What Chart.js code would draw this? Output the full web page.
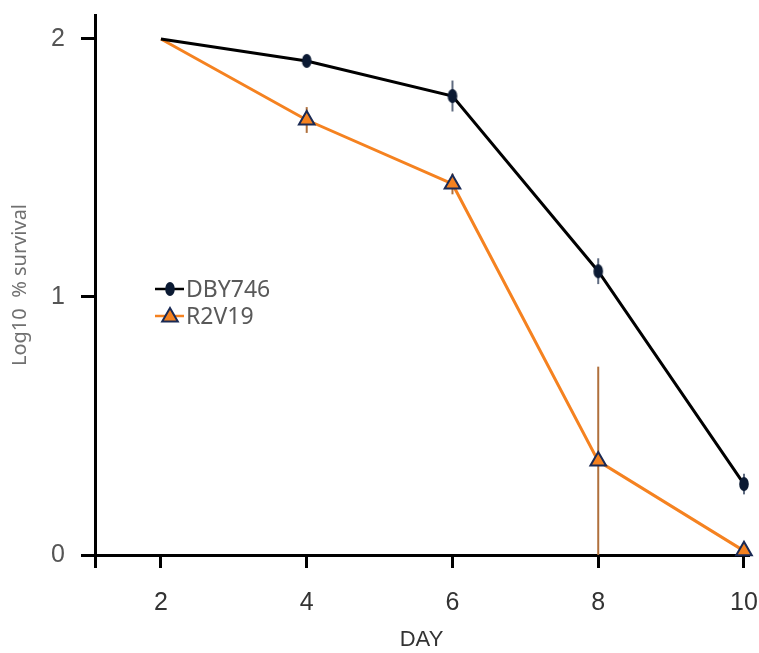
<!DOCTYPE html>
<html>
<head>
<meta charset="utf-8">
<script src="https://cdn.jsdelivr.net/npm/chart.js@4.4.0/dist/chart.umd.min.js"></script>
<style>
  html, body { margin: 0; padding: 0; background: #fff; }
  #wrap { width: 759px; height: 653px; }
</style>
</head>
<body>
<div id="wrap"><canvas id="survivalChart"></canvas></div>
<script>
// values
const days = [2, 4, 6, 8, 10];
const dby746 = [2.0, 1.915, 1.779, 1.10, 0.275];
const dby746Err = [0, 0.02, 0.06, 0.05, 0.04];
const r2v19 = [2.0, 1.686, 1.438, 0.364, 0.016];
const r2v19Err = [0, 0.05, 0.04, 0.366, 0];
const xTicks = [2, 4, 6, 8, 10];
const yTicks = [0, 1, 2];

const tickFont = { family: "'Liberation Sans Narrow', 'Liberation Sans', sans-serif", size: 25 };
const grayFont = "'Noto Sans', 'DejaVu Sans', sans-serif";

// vertical ellipse marker for DBY746
function ellipseMarker() {
    const c = document.createElement('canvas');
    c.width = 12; c.height = 16;
    const g = c.getContext('2d');
    g.fillStyle = '#0b1a33';
    g.beginPath();
    g.ellipse(6, 8, 4.8, 7, 0, 0, Math.PI * 2);
    g.fill();
    return c;
}
const dotMarker = ellipseMarker();

function drawTriangle(ctx, cx, cy, r, fill, stroke) {
    ctx.fillStyle = fill;
    ctx.strokeStyle = stroke;
    ctx.lineWidth = 2;
    ctx.beginPath();
    for (let k = 0; k < 3; k++) {
        const a = -Math.PI / 2 + k * 2 * Math.PI / 3;
        const px = cx + Math.cos(a) * r, py = cy + Math.sin(a) * r;
        if (k === 0) ctx.moveTo(px, py); else ctx.lineTo(px, py);
    }
    ctx.closePath();
    ctx.fill();
    ctx.stroke();
}

const errorBars = {
    id: 'errorBars',
    beforeDatasetsDraw(chart) {
        const ctx = chart.ctx;
        const ys = chart.scales.y;
        const xs = chart.scales.x;
        chart.data.datasets.forEach(ds => {
            ctx.save();
            ctx.strokeStyle = ds.errColor;
            ctx.lineWidth = 2;
            ds.data.forEach((p, i) => {
                const e = ds.errors[i];
                if (!e) return;
                const x = xs.getPixelForValue(p.x);
                ctx.beginPath();
                ctx.moveTo(x, ys.getPixelForValue(p.y + e));
                ctx.lineTo(x, ys.getPixelForValue(Math.max(0, p.y - e)));
                ctx.stroke();
            });
            ctx.restore();
        });
    }
};

const innerLegend = {
    id: 'innerLegend',
    afterDatasetsDraw(chart) {
        const ctx = chart.ctx;
        const x0 = chart.chartArea.left + 60;
        let y = 289;
        chart.data.datasets.forEach(ds => {
            ctx.save();
            ctx.strokeStyle = ds.borderColor;
            ctx.lineWidth = 2.5;
            ctx.beginPath();
            ctx.moveTo(x0, y);
            ctx.lineTo(x0 + 29, y);
            ctx.stroke();
            if (ds.label === 'R2V19') {
                drawTriangle(ctx, x0 + 15, y + 1, 9, ds.pointBackgroundColor, ds.pointBorderColor);
            } else {
                ctx.drawImage(dotMarker, x0 + 15 - 6, y - 8);
            }
            ctx.fillStyle = '#595959';
            ctx.font = "23px " + grayFont;
            ctx.textBaseline = 'middle';
            ctx.textAlign = 'left';
            ctx.fillText(ds.label, x0 + 31, y + 1);
            ctx.restore();
            y += 27;
        });
    }
};

function toPoints(vals) {
    return days.map((d, i) => ({ x: d, y: vals[i] }));
}

// no marker at the first day
const firstHidden = r => ctx => ctx.dataIndex === 0 ? 0 : r;

new Chart(document.getElementById('survivalChart'), {
    type: 'line',
    data: {
        datasets: [{
            label: 'DBY746',
            data: toPoints(dby746),
            errors: dby746Err,
            errColor: '#5f6b80',
            borderColor: '#000000',
            borderWidth: 3,
            pointStyle: dotMarker,
            pointRadius: firstHidden(7),
            pointHoverRadius: 0,
            tension: 0
        }, {
            label: 'R2V19',
            data: toPoints(r2v19),
            errors: r2v19Err,
            errColor: '#b0703c',
            borderColor: '#f58220',
            borderWidth: 3,
            pointStyle: 'triangle',
            pointRadius: firstHidden(9),
            pointHoverRadius: 0,
            pointBackgroundColor: '#f58220',
            pointBorderColor: '#1a2a55',
            pointBorderWidth: 2,
            tension: 0
        }]
    },
    options: {
        responsive: true,
        maintainAspectRatio: false,
        animation: false,
        clip: false,
        layout: { padding: 0 },
        plugins: {
            legend: { display: false },
            tooltip: { enabled: false }
        },
        scales: {
            x: {
                type: 'linear',
                min: 1.095,
                max: 10.055,
                afterBuildTicks: scale => {
                    scale.ticks = [{ value: scale.min }].concat(xTicks.map(v => ({ value: v })));
                },
                afterFit: scale => {
                    scale.height = 98;
                    scale.paddingLeft = 0;
                    scale.paddingRight = 11;
                },
                ticks: {
                    callback: v => xTicks.includes(v) ? String(v) : '',
                    color: '#333',
                    font: tickFont,
                    padding: 20,
                    maxRotation: 0,
                    autoSkip: false
                },
                grid: { drawOnChartArea: false, drawTicks: true, tickLength: 13, color: '#000', lineWidth: 3 },
                border: { display: true, color: '#000', width: 3 },
                title: {
                    display: true,
                    text: 'DAY',
                    color: '#333',
                    font: { family: tickFont.family, size: 22 },
                    padding: { top: 0, bottom: 0 }
                }
            },
            y: {
                min: 0,
                max: 2.093,
                afterBuildTicks: scale => {
                    scale.ticks = yTicks.map(v => ({ value: v }));
                },
                afterFit: scale => {
                    scale.width = 95;
                    scale.paddingTop = 15;
                    scale.paddingBottom = 0;
                },
                ticks: {
                    color: '#555',
                    font: tickFont,
                    padding: 16
                },
                grid: { drawOnChartArea: false, drawTicks: true, tickLength: 14, color: '#000', lineWidth: 3 },
                border: { display: true, color: '#000', width: 3 },
                title: {
                    display: true,
                    text: 'Log10  % survival',
                    color: '#707070',
                    font: { family: grayFont, size: 20 },
                    padding: { top: 8, bottom: 0 }
                }
            }
        }
    },
    plugins: [errorBars, innerLegend]
});
</script>
</body>
</html>
